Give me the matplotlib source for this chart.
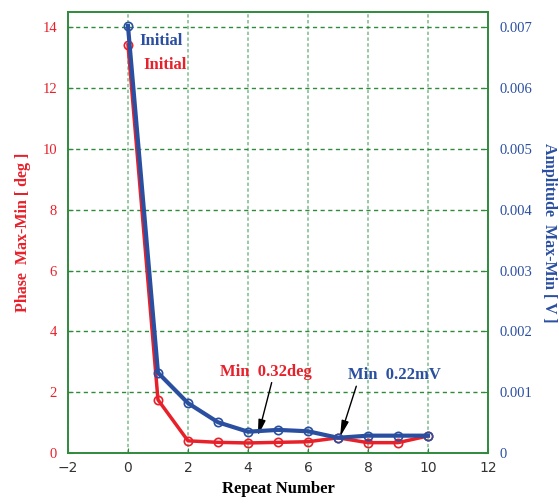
import matplotlib.pyplot as plt

repeat = [0, 1, 2, 3, 4, 5, 6, 7, 8, 9, 10]
phase = [13.42, 1.75, 0.40, 0.35, 0.33, 0.35, 0.37, 0.50, 0.34, 0.34, 0.56]
amplitude = [0.00702, 0.00132, 0.00082, 0.000505, 0.00035, 0.00038, 0.000357, 0.00025, 0.000285, 0.000285, 0.000285]

x_ticks = [-2, 0, 2, 4, 6, 8, 10, 12]
phase_ticks = [0, 2, 4, 6, 8, 10, 12, 14]
amp_ticks = [0, 0.001, 0.002, 0.003, 0.004, 0.005, 0.006, 0.007]
amp_tick_labels = ['0', '0.001', '0.002', '0.003', '0.004', '0.005', '0.006', '0.007']

red = '#e8202a'
blue = '#2a4fa0'
green = '#2f8a3c'
serif = 'Liberation Serif'

fig = plt.figure(figsize=(5.59, 5.04), dpi=100)
ax = fig.add_axes([0.1216, 0.1012, 0.7514, 0.875])
ax2 = ax.twinx()

ax.plot(repeat, phase, color=red, lw=2.5, marker='o', ms=6, mfc='none', mec=red, mew=1.2)
ax2.plot(repeat, amplitude, color=blue, lw=3, marker='o', ms=6, mfc='none', mec=blue, mew=1.2)

ax.set_xlim(-2, 12)
ax.set_ylim(0, 14.5)
ax2.set_ylim(0, 0.00725)
ax.set_xticks(x_ticks)
ax.set_yticks(phase_ticks)
ax2.set_yticks(amp_ticks)
ax2.set_yticklabels(amp_tick_labels)

# vertical grid lighter and dotted, horizontal darker dashes
ax.grid(True, axis='x', color='#7dbb8c', linestyle=(0, (2.2, 1.6)), lw=1.1)
ax.grid(True, axis='y', color=green, linestyle=(0, (3, 2.5)), lw=1)
for a in (ax, ax2):
    for s in a.spines.values():
        s.set_color(green)
        s.set_linewidth(1.2)

ax.tick_params(axis='x', direction='in', color=green, labelsize=10, labelcolor='#333333', pad=6)
ax.tick_params(axis='y', direction='in', color=green, labelcolor=red, labelsize=10.5, pad=8)
ax2.tick_params(axis='y', direction='in', color=green, labelcolor=blue, labelsize=10.5, pad=8)
for lab in ax.get_yticklabels():
    lab.set_family(serif)
for lab in ax2.get_yticklabels():
    lab.set_family(serif)

ax.set_xlabel('Repeat Number', family=serif, fontweight='bold', fontsize=12, labelpad=4)
ax.set_ylabel('Phase  Max-Min [ deg ]', family=serif, fontweight='bold', fontsize=11.5, color=red, labelpad=8)
ax2.set_ylabel('Amplitude  Max-Min [ V ]', family=serif, fontweight='bold', fontsize=11.5, color=blue,
               rotation=270, labelpad=18)

ax.text(0.38, 13.55, 'Initial', color=blue, family=serif, fontweight='bold', fontsize=12, va='center')
ax.text(0.52, 12.75, 'Initial', color=red, family=serif, fontweight='bold', fontsize=12, va='center')

arrow = dict(arrowstyle='-|>,head_width=0.18,head_length=0.8', color='black', lw=1,
             shrinkA=0, shrinkB=0)
ax.annotate('Min  0.32deg', xy=(4.33, 0.56), xytext=(3.07, 2.67), color=red, family=serif,
            fontweight='bold', fontsize=12, va='center',
            arrowprops=dict(arrow, relpos=(0.57, 0.0)))
ax.annotate('Min  0.22mV', xy=(7.07, 0.53), xytext=(7.33, 2.55), color=blue, family=serif,
            fontweight='bold', fontsize=12, va='center',
            arrowprops=dict(arrow, relpos=(0.1, 0.0)))

fig.savefig('out.png', dpi=100)
